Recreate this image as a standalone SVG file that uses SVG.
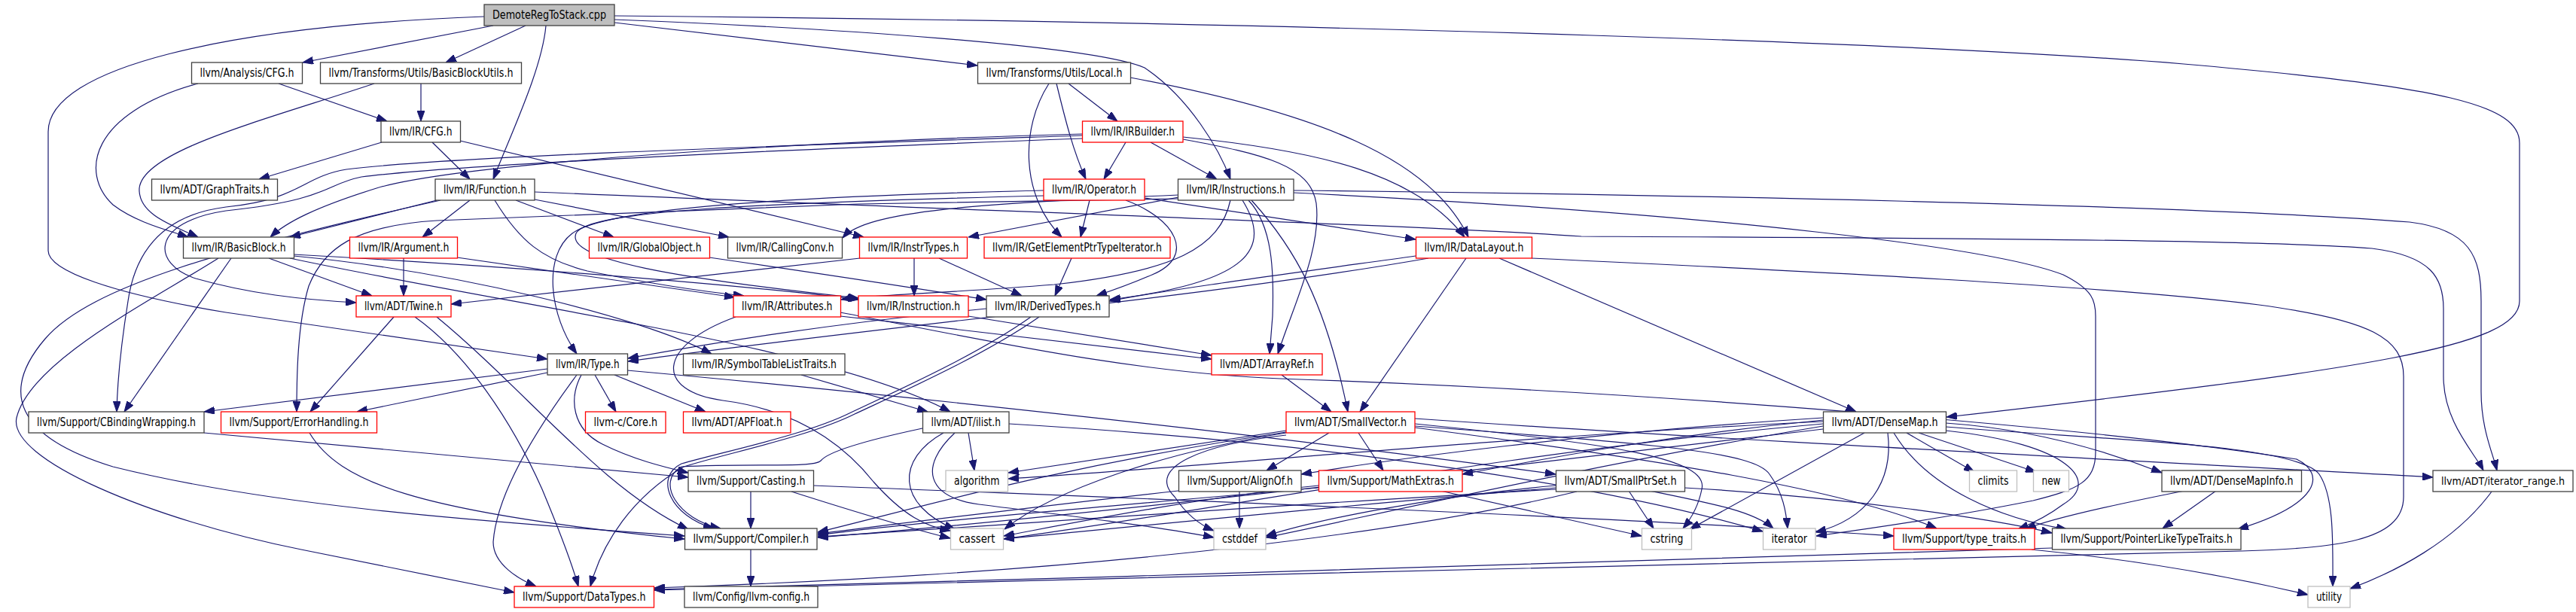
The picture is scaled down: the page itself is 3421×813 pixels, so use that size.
<svg xmlns="http://www.w3.org/2000/svg" width="3421" height="813" viewBox="0 0 3421 813">
<style>
rect{fill:#fff;stroke:#404040;stroke-width:1.3}
.rd rect{stroke:#ff0000}
.sy rect{stroke:#bfbfbf}
.mn rect{fill:#bfbfbf}
text{font-family:"DejaVu Sans","Liberation Sans",sans-serif;font-size:15px;text-anchor:middle;fill:#000}
#n39 text{font-size:14px}
#edges path{fill:none;stroke:#191970;stroke-width:1.2;marker-end:url(#ah)}
</style>
<defs>
<marker id="ah" viewBox="0 0 14 10" refX="14" refY="5" markerWidth="14" markerHeight="10" markerUnits="userSpaceOnUse" orient="auto"><path d="M0,0L14,5L0,10z" fill="#191970" stroke="#191970"/></marker>
</defs>
<rect x="0" y="0" width="3421" height="813" style="fill:#fff;stroke:none"/>
<g id="edges">
<path d="M655,34 L402,83"/>
<path d="M698,34 L592,83"/>
<path d="M725,34 C720,90 682,170 655,238"/>
<path d="M816,30 L1298,87"/>
<path d="M816,26 C1100,37 1450,60 1520,90 C1580,130 1620,200 1634,238"/>
<path d="M816,21 C1800,30 2600,60 2900,85 C3250,115 3346,140 3346,190 L3346,400 C3346,460 3150,490 2585,554"/>
<path d="M643,22 C300,35 64,90 64,175 L64,333 C64,360 150,390 300,415 L727,477"/>
<path d="M370,111 L514,161"/>
<path d="M263,111 C120,150 105,230 150,272 C180,295 220,305 250,315"/>
<path d="M559,111 L559,161"/>
<path d="M497,111 C350,160 190,200 185,250 C183,285 230,300 263,315"/>
<path d="M507,189 L344,238"/>
<path d="M574,189 L624,238"/>
<path d="M611,187 L1147,315"/>
<path d="M580,266 L385,315"/>
<path d="M624,266 L561,315"/>
<path d="M685,266 L815,315"/>
<path d="M710,265 L968,315"/>
<path d="M657,266 C690,320 720,345 780,360 C880,380 940,388 988,393"/>
<path d="M710,255 C1300,280 1900,300 2100,314 C2500,316 3000,318 3150,330 C3230,340 3245,370 3245,410 L3245,500 C3245,560 3285,600 3298,625"/>
<path d="M585,266 C300,330 120,380 60,450 C0,520 20,580 150,620 C350,670 600,690 909,712"/>
<path d="M1658,266 C1690,300 1692,360 1690,420 L1686,470"/>
<path d="M1662,266 C1720,330 1760,400 1790,547"/>
<path d="M1565,262 L1286,315"/>
<path d="M1565,259 C1300,270 1150,280 1119,316"/>
<path d="M1634,266 C1620,330 1560,360 1400,378 C1250,390 1150,392 1117,398"/>
<path d="M1650,266 C1690,330 1660,375 1474,398"/>
<path d="M1565,264 L1140,271 L580,293 C470,300 430,330 410,380 C395,430 394,500 394,547"/>
<path d="M1718,253 C2200,258 2900,272 3200,295 C3280,305 3295,340 3295,400 L3295,520 C3295,570 3310,600 3316,625"/>
<path d="M1718,256 C2300,285 2650,330 2740,365 C2780,385 2783,400 2783,420 L2783,600 C2783,640 2760,650 2700,665 C2600,685 2500,700 2412,712"/>
<path d="M1495,189 L1466,238"/>
<path d="M1528,189 L1616,238"/>
<path d="M1571,182 C1750,200 1880,230 1945,315"/>
<path d="M1571,185 C1680,205 1740,220 1748,270 C1755,330 1720,400 1697,470"/>
<path d="M1437,178 C1000,190 600,220 500,250 C420,275 380,295 359,315"/>
<path d="M1437,180 C1000,195 600,208 460,225 C400,235 400,265 300,275 C220,285 180,330 170,400 C162,450 156,500 155,547"/>
<path d="M1437,184 C1000,200 600,220 480,235 C430,245 440,265 300,280 C200,295 200,350 260,370 C330,390 400,398 473,402"/>
<path d="M1419,111 L1484,161"/>
<path d="M1403,111 C1415,160 1425,200 1442,238"/>
<path d="M1393,111 C1355,170 1355,260 1410,315"/>
<path d="M1501,103 C1750,150 1900,210 1950,315"/>
<path d="M1447,266 L1435,315"/>
<path d="M1495,266 C1560,290 1590,340 1530,365 C1500,378 1480,385 1456,393"/>
<path d="M1520,263 L1880,318"/>
<path d="M1386,253 C1000,262 800,280 760,310 C720,340 730,420 766,470"/>
<path d="M1386,260 C1000,270 780,280 765,310 C750,345 900,370 1140,396"/>
<path d="M357,343 L494,393"/>
<path d="M390,338 C700,355 1000,380 1140,398"/>
<path d="M390,340 C600,360 850,420 945,470"/>
<path d="M385,343 C700,410 1100,460 1262,547"/>
<path d="M307,343 L165,547"/>
<path d="M290,343 C200,400 40,480 22,555 C10,610 200,690 400,730 C500,750 600,770 683,787"/>
<path d="M536,343 L536,393"/>
<path d="M607,342 L976,395"/>
<path d="M942,342 C1100,365 1200,380 1310,398"/>
<path d="M1214,343 L1214,393"/>
<path d="M1247,343 L1357,393"/>
<path d="M1142,343 L599,404"/>
<path d="M1423,343 L1401,393"/>
<path d="M1880,340 C1700,365 1550,385 1473,400"/>
<path d="M1897,343 C1600,395 1200,430 834,480"/>
<path d="M1947,343 L1806,547"/>
<path d="M1991,343 L2465,547"/>
<path d="M2034,343 C2400,360 2800,380 3000,405 C3150,425 3192,450 3192,500 L3192,660 C3192,720 3100,728 2977,732 C2700,742 1500,765 869,784"/>
<path d="M790,498 L818,547"/>
<path d="M816,498 L937,547"/>
<path d="M772,498 C755,530 760,570 800,590 C840,610 880,620 914,628"/>
<path d="M766,498 C720,560 660,650 655,720 C655,750 690,770 712,779"/>
<path d="M727,490 L271,547"/>
<path d="M727,495 L474,547"/>
<path d="M833,492 C1200,525 1700,580 2066,630"/>
<path d="M1064,498 L1232,547"/>
<path d="M1702,498 L1768,547"/>
<path d="M1286,575 L1294,625"/>
<path d="M1253,575 C1190,610 1190,670 1268,703"/>
<path d="M1268,575 C1220,620 1230,660 1300,670 C1420,685 1540,700 1612,714"/>
<path d="M1340,563 C1800,590 2150,650 2341,706"/>
<path d="M1225,569 C1150,585 1100,600 1090,612 C1080,622 1000,615 905,620 C870,640 900,690 957,702"/>
<path d="M997,653 L997,702"/>
<path d="M1080,645 C1600,665 2200,690 2515,712"/>
<path d="M1051,653 C1120,675 1200,700 1262,715"/>
<path d="M997,730 L997,779"/>
<path d="M411,575 C450,640 550,680 909,716"/>
<path d="M271,575 L914,634"/>
<path d="M523,421 L412,547"/>
<path d="M551,421 C620,470 680,560 720,650 C745,710 760,750 768,779"/>
<path d="M580,421 C700,520 800,650 914,703"/>
<path d="M1310,410 C1100,430 950,455 834,476"/>
<path d="M1369,421 C1300,470 1200,515 1130,548 C1070,578 960,600 905,616 C868,634 890,686 948,702"/>
<path d="M1380,421 C1310,470 1210,515 1135,550 C1075,580 965,602 908,620 C840,660 800,720 784,779"/>
<path d="M1116,420 C1300,440 1500,465 1609,477"/>
<path d="M1286,420 L1609,472"/>
<path d="M977,421 C870,460 870,520 960,532 C1060,545 1120,590 1160,640 C1200,685 1230,700 1262,705"/>
<path d="M1116,415 C1300,450 1500,495 1700,503 C2200,520 2800,570 3050,610 C3090,630 3080,670 2972,703"/>
<path d="M1765,575 L1682,625"/>
<path d="M1804,575 L1837,625"/>
<path d="M1708,572 L1339,628"/>
<path d="M1708,575 C1550,600 1400,650 1334,703"/>
<path d="M1708,578 C1600,590 1520,620 1560,660 C1580,690 1600,700 1612,705"/>
<path d="M1708,574 C1400,620 1200,680 1086,707"/>
<path d="M1879,563 C2150,590 2270,610 2260,650 C2255,675 2245,690 2235,702"/>
<path d="M1879,566 C2200,590 2330,600 2350,630 C2368,655 2372,680 2374,702"/>
<path d="M1879,568 C2200,610 2450,650 2572,702"/>
<path d="M1879,556 C2300,585 2800,610 3231,634"/>
<path d="M1646,653 L1646,702"/>
<path d="M1565,652 C1400,670 1200,695 1086,709"/>
<path d="M1913,652 L2180,712"/>
<path d="M1751,648 C1500,670 1200,695 1086,711"/>
<path d="M1751,645 C1600,660 1450,690 1333,712"/>
<path d="M2163,652 L2196,702"/>
<path d="M2191,652 C2280,670 2330,680 2355,702"/>
<path d="M2237,648 C2450,660 2650,690 2725,708"/>
<path d="M2066,645 C1900,660 1750,690 1681,712"/>
<path d="M2066,648 C1800,670 1500,700 1333,716"/>
<path d="M2066,650 C1700,670 1300,700 1086,713"/>
<path d="M2094,653 C1900,700 1500,760 869,781"/>
<path d="M2532,575 L2622,627"/>
<path d="M2548,575 L2704,627"/>
<path d="M2476,575 L2244,703"/>
<path d="M2507,575 C2515,640 2480,690 2411,707"/>
<path d="M2515,575 C2560,650 2660,690 2745,703"/>
<path d="M2584,572 C2750,590 2790,640 2740,670 C2720,685 2700,695 2680,703"/>
<path d="M2584,562 C2700,570 2800,600 2871,628"/>
<path d="M2584,567 C2800,585 3050,590 3080,630 C3100,660 3098,720 3098,779"/>
<path d="M2421,555 C2100,575 1850,610 1728,630"/>
<path d="M2421,558 C2200,580 2050,610 1942,630"/>
<path d="M2421,560 C2000,580 1600,620 1339,636"/>
<path d="M2421,563 C2000,600 1600,680 1333,716"/>
<path d="M2421,566 C2100,620 1800,690 1681,714"/>
<path d="M2421,570 C2000,620 1400,690 1086,714"/>
<path d="M2943,652 L2872,702"/>
<path d="M2901,652 C2800,672 2720,690 2690,703"/>
<path d="M2725,728 C2300,745 1500,765 869,783"/>
<path d="M2698,730 C2850,745 2980,770 3065,790"/>
<path d="M3309,653 C3260,720 3180,760 3121,782"/>
</g>
<g id="n0" class="mn"><rect x="643" y="6" width="173" height="28"/><text x="729.5" y="24.5" textLength="151" lengthAdjust="spacingAndGlyphs">DemoteRegToStack.cpp</text></g>
<g id="n1"><rect x="254.5" y="83" width="147" height="28"/><text x="328" y="101.5" textLength="125" lengthAdjust="spacingAndGlyphs">llvm/Analysis/CFG.h</text></g>
<g id="n2"><rect x="425.5" y="83" width="267" height="28"/><text x="559" y="101.5" textLength="245" lengthAdjust="spacingAndGlyphs">llvm/Transforms/Utils/BasicBlockUtils.h</text></g>
<g id="n3"><rect x="1298.5" y="83" width="203" height="28"/><text x="1400" y="101.5" textLength="181" lengthAdjust="spacingAndGlyphs">llvm/Transforms/Utils/Local.h</text></g>
<g id="n4"><rect x="506" y="161" width="105.5" height="28"/><text x="558.75" y="179.5" textLength="83.5" lengthAdjust="spacingAndGlyphs">llvm/IR/CFG.h</text></g>
<g id="n5" class="rd"><rect x="1437.5" y="161" width="133.5" height="28"/><text x="1504.25" y="179.5" textLength="111.5" lengthAdjust="spacingAndGlyphs">llvm/IR/IRBuilder.h</text></g>
<g id="n6"><rect x="201.5" y="238" width="167" height="28"/><text x="285" y="256.5" textLength="145" lengthAdjust="spacingAndGlyphs">llvm/ADT/GraphTraits.h</text></g>
<g id="n7"><rect x="578" y="238" width="132" height="28"/><text x="644" y="256.5" textLength="110" lengthAdjust="spacingAndGlyphs">llvm/IR/Function.h</text></g>
<g id="n8" class="rd"><rect x="1386" y="238" width="134" height="28"/><text x="1453" y="256.5" textLength="112" lengthAdjust="spacingAndGlyphs">llvm/IR/Operator.h</text></g>
<g id="n9"><rect x="1564.5" y="238" width="153.5" height="28"/><text x="1641.25" y="256.5" textLength="131.5" lengthAdjust="spacingAndGlyphs">llvm/IR/Instructions.h</text></g>
<g id="n10"><rect x="243.5" y="315" width="147" height="28"/><text x="317" y="333.5" textLength="125" lengthAdjust="spacingAndGlyphs">llvm/IR/BasicBlock.h</text></g>
<g id="n11" class="rd"><rect x="464.5" y="315" width="143" height="28"/><text x="536" y="333.5" textLength="121" lengthAdjust="spacingAndGlyphs">llvm/IR/Argument.h</text></g>
<g id="n12" class="rd"><rect x="782.5" y="315" width="160" height="28"/><text x="862.5" y="333.5" textLength="138" lengthAdjust="spacingAndGlyphs">llvm/IR/GlobalObject.h</text></g>
<g id="n13"><rect x="966.5" y="315" width="152" height="28"/><text x="1042.5" y="333.5" textLength="130" lengthAdjust="spacingAndGlyphs">llvm/IR/CallingConv.h</text></g>
<g id="n14" class="rd"><rect x="1141.5" y="315" width="143" height="28"/><text x="1213" y="333.5" textLength="121" lengthAdjust="spacingAndGlyphs">llvm/IR/InstrTypes.h</text></g>
<g id="n15" class="rd"><rect x="1307" y="315" width="247" height="28"/><text x="1430.5" y="333.5" textLength="225" lengthAdjust="spacingAndGlyphs">llvm/IR/GetElementPtrTypeIterator.h</text></g>
<g id="n16" class="rd"><rect x="1880.5" y="315" width="154" height="28"/><text x="1957.5" y="333.5" textLength="132" lengthAdjust="spacingAndGlyphs">llvm/IR/DataLayout.h</text></g>
<g id="n17" class="rd"><rect x="473" y="393" width="126" height="28"/><text x="536" y="411.5" textLength="104" lengthAdjust="spacingAndGlyphs">llvm/ADT/Twine.h</text></g>
<g id="n18" class="rd"><rect x="974" y="393" width="142.5" height="28"/><text x="1045.25" y="411.5" textLength="120.5" lengthAdjust="spacingAndGlyphs">llvm/IR/Attributes.h</text></g>
<g id="n19" class="rd"><rect x="1140" y="393" width="146" height="28"/><text x="1213" y="411.5" textLength="124" lengthAdjust="spacingAndGlyphs">llvm/IR/Instruction.h</text></g>
<g id="n20"><rect x="1310" y="393" width="163" height="28"/><text x="1391.5" y="411.5" textLength="141" lengthAdjust="spacingAndGlyphs">llvm/IR/DerivedTypes.h</text></g>
<g id="n21"><rect x="727" y="470" width="106.5" height="28"/><text x="780.25" y="488.5" textLength="84.5" lengthAdjust="spacingAndGlyphs">llvm/IR/Type.h</text></g>
<g id="n22"><rect x="907.5" y="470" width="214.5" height="28"/><text x="1014.75" y="488.5" textLength="192.5" lengthAdjust="spacingAndGlyphs">llvm/IR/SymbolTableListTraits.h</text></g>
<g id="n23" class="rd"><rect x="1609" y="470" width="147" height="28"/><text x="1682.5" y="488.5" textLength="125" lengthAdjust="spacingAndGlyphs">llvm/ADT/ArrayRef.h</text></g>
<g id="n24"><rect x="38" y="547" width="233" height="28"/><text x="154.5" y="565.5" textLength="211" lengthAdjust="spacingAndGlyphs">llvm/Support/CBindingWrapping.h</text></g>
<g id="n25" class="rd"><rect x="293.5" y="547" width="207" height="28"/><text x="397" y="565.5" textLength="185" lengthAdjust="spacingAndGlyphs">llvm/Support/ErrorHandling.h</text></g>
<g id="n26" class="rd"><rect x="777.5" y="547" width="106.5" height="28"/><text x="830.75" y="565.5" textLength="84.5" lengthAdjust="spacingAndGlyphs">llvm-c/Core.h</text></g>
<g id="n27" class="rd"><rect x="907.5" y="547" width="142.5" height="28"/><text x="978.75" y="565.5" textLength="120.5" lengthAdjust="spacingAndGlyphs">llvm/ADT/APFloat.h</text></g>
<g id="n28"><rect x="1225.5" y="547" width="114.5" height="28"/><text x="1282.75" y="565.5" textLength="92.5" lengthAdjust="spacingAndGlyphs">llvm/ADT/ilist.h</text></g>
<g id="n29" class="rd"><rect x="1708" y="547" width="171" height="28"/><text x="1793.5" y="565.5" textLength="149" lengthAdjust="spacingAndGlyphs">llvm/ADT/SmallVector.h</text></g>
<g id="n30"><rect x="2421.5" y="547" width="163" height="28"/><text x="2503" y="565.5" textLength="141" lengthAdjust="spacingAndGlyphs">llvm/ADT/DenseMap.h</text></g>
<g id="n31"><rect x="914" y="625" width="166.5" height="28"/><text x="997.25" y="643.5" textLength="144.5" lengthAdjust="spacingAndGlyphs">llvm/Support/Casting.h</text></g>
<g id="n32" class="sy"><rect x="1256" y="625" width="82.5" height="28"/><text x="1297.25" y="643.5" textLength="60.5" lengthAdjust="spacingAndGlyphs">algorithm</text></g>
<g id="n33"><rect x="1565.5" y="625" width="162.5" height="28"/><text x="1646.75" y="643.5" textLength="140.5" lengthAdjust="spacingAndGlyphs">llvm/Support/AlignOf.h</text></g>
<g id="n34" class="rd"><rect x="1751.5" y="625" width="190.5" height="28"/><text x="1846.75" y="643.5" textLength="168.5" lengthAdjust="spacingAndGlyphs">llvm/Support/MathExtras.h</text></g>
<g id="n35"><rect x="2066.5" y="625" width="171" height="28"/><text x="2152" y="643.5" textLength="149" lengthAdjust="spacingAndGlyphs">llvm/ADT/SmallPtrSet.h</text></g>
<g id="n36" class="sy"><rect x="2615.5" y="625" width="63" height="28"/><text x="2647" y="643.5" textLength="41" lengthAdjust="spacingAndGlyphs">climits</text></g>
<g id="n37" class="sy"><rect x="2700.5" y="625" width="47" height="28"/><text x="2724" y="643.5" textLength="25" lengthAdjust="spacingAndGlyphs">new</text></g>
<g id="n38"><rect x="2871" y="625" width="185.5" height="28"/><text x="2963.75" y="643.5" textLength="163.5" lengthAdjust="spacingAndGlyphs">llvm/ADT/DenseMapInfo.h</text></g>
<g id="n39"><rect x="3231" y="625" width="186" height="28"/><text x="3324" y="643.5" textLength="164" lengthAdjust="spacingAndGlyphs">llvm/ADT/iterator_range.h</text></g>
<g id="n40"><rect x="909.5" y="702" width="175.5" height="28"/><text x="997.25" y="720.5" textLength="153.5" lengthAdjust="spacingAndGlyphs">llvm/Support/Compiler.h</text></g>
<g id="n41" class="sy"><rect x="1262.5" y="702" width="70" height="28"/><text x="1297.5" y="720.5" textLength="48" lengthAdjust="spacingAndGlyphs">cassert</text></g>
<g id="n42" class="sy"><rect x="1612" y="702" width="69" height="28"/><text x="1646.5" y="720.5" textLength="47" lengthAdjust="spacingAndGlyphs">cstddef</text></g>
<g id="n43" class="sy"><rect x="2180.5" y="702" width="66" height="28"/><text x="2213.5" y="720.5" textLength="44" lengthAdjust="spacingAndGlyphs">cstring</text></g>
<g id="n44" class="sy"><rect x="2341.5" y="702" width="69.5" height="28"/><text x="2376.25" y="720.5" textLength="47.5" lengthAdjust="spacingAndGlyphs">iterator</text></g>
<g id="n45" class="rd"><rect x="2515" y="702" width="187" height="28"/><text x="2608.5" y="720.5" textLength="165" lengthAdjust="spacingAndGlyphs">llvm/Support/type_traits.h</text></g>
<g id="n46"><rect x="2725.5" y="702" width="250.5" height="28"/><text x="2850.75" y="720.5" textLength="228.5" lengthAdjust="spacingAndGlyphs">llvm/Support/PointerLikeTypeTraits.h</text></g>
<g id="n47" class="rd"><rect x="683" y="779" width="185.5" height="28"/><text x="775.75" y="797.5" textLength="163.5" lengthAdjust="spacingAndGlyphs">llvm/Support/DataTypes.h</text></g>
<g id="n48"><rect x="909" y="779" width="177" height="28"/><text x="997.5" y="797.5" textLength="155" lengthAdjust="spacingAndGlyphs">llvm/Config/llvm-config.h</text></g>
<g id="n49" class="sy"><rect x="3065" y="779" width="56" height="28"/><text x="3093" y="797.5" textLength="34" lengthAdjust="spacingAndGlyphs">utility</text></g>
</svg>
